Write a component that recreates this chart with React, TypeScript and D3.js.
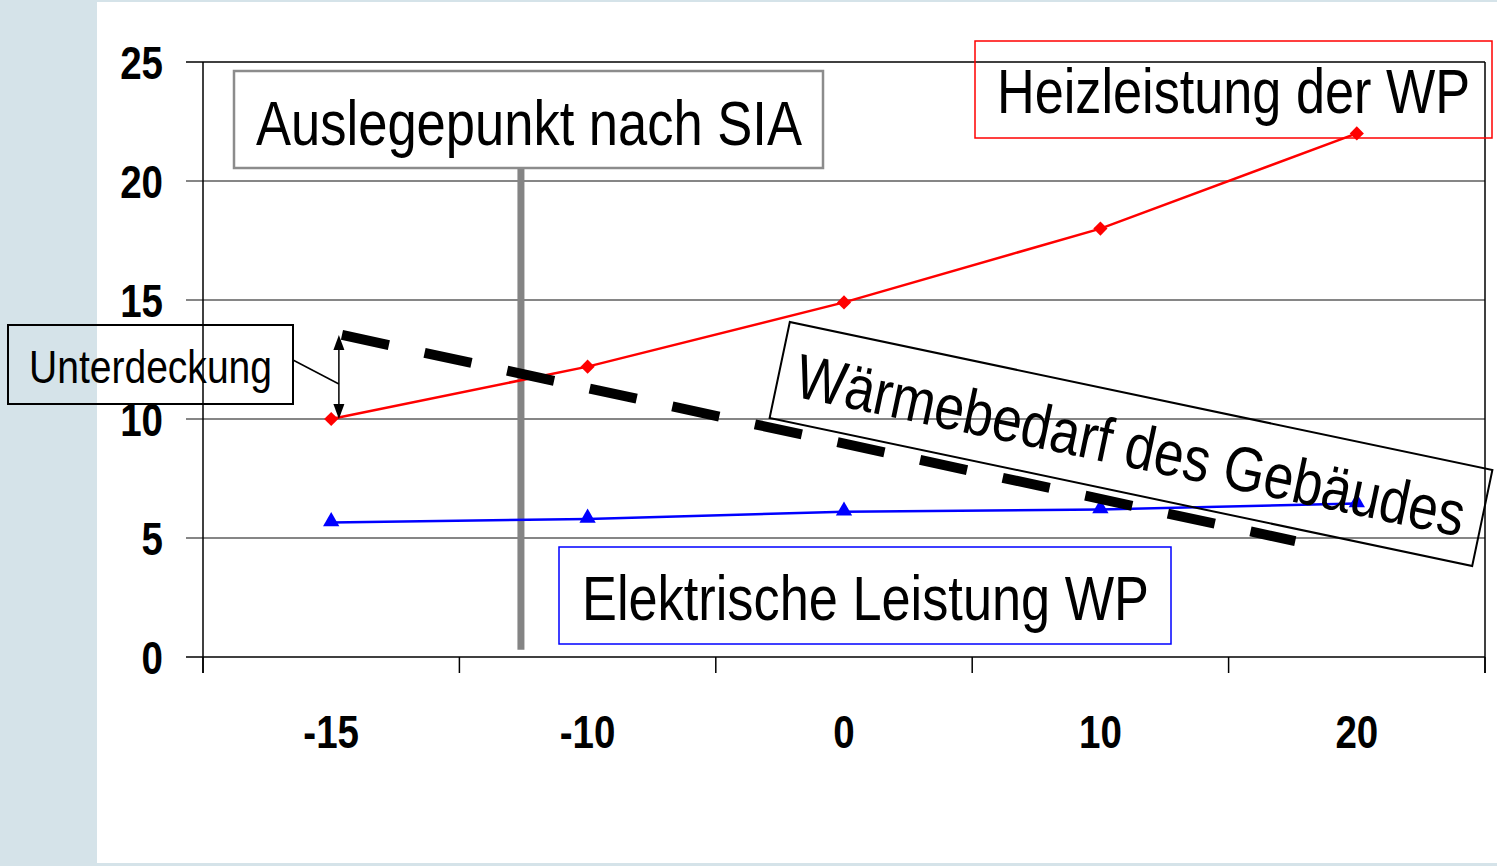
import React from 'react'
import * as d3 from 'd3'

const categories = ['-15', '-10', '0', '10', '20']
const heizleistung = [10, 12.2, 14.9, 18, 22]
const elektrischeLeistung = [5.65, 5.8, 6.1, 6.2, 6.45]
const yTickValues = [0, 5, 10, 15, 20, 25]
// building heat demand, drawn as a dashed straight line (category index, value)
const waermebedarfPos = [0.042, 3.76]
const waermebedarf = [13.53, 4.87]
// design point after SIA (category index)
const auslegePos = 0.74

const width = 1497
const height = 866
const margin = { left: 203, right: 1485, top: 62, bottom: 657 }
const font = '"Liberation Sans", Arial, sans-serif'

const x = d3.scalePoint<string>().domain(categories).range([margin.left, margin.right]).padding(0.5)
const xIdx = d3.scaleLinear().domain([0, categories.length - 1])
  .range([x(categories[0]) as number, x(categories[categories.length - 1]) as number])
const y = d3.scaleLinear().domain([0, 25]).range([margin.bottom, margin.top])
const step = x.step()
const bandEdges = d3.range(categories.length + 1).map(i => margin.left + i * step)

const lineGen = d3.line<number>().x((d, i) => x(categories[i]) as number).y(d => y(d))
const diamond = d3.symbol().type(d3.symbolSquare).size(100)()
const triangle = d3.symbol().type(d3.symbolTriangle).size(115)()

export default function App() {
  const svgStyle: React.CSSProperties = { position: 'absolute', left: 0, top: 0, display: 'block' }
  const arrowX = xIdx(0.03)
  const arrowTop = y(waermebedarf[0])
  const arrowBottom = y(heizleistung[0])
  const wx0 = xIdx(waermebedarfPos[0])
  const wx1 = xIdx(waermebedarfPos[1])
  return (
    <svg style={svgStyle} width={width} height={height}>
      <rect x={0} y={0} width={width} height={height} fill='#d5e3e9' />
      <rect x={97} y={2} width={width - 97} height={861} fill='#ffffff' />

      {/* grid + frame */}
      {yTickValues.map(v => (
        <line key={v} x1={186} x2={margin.right} y1={y(v)} y2={y(v)}
          stroke={v === 0 || v === 25 ? '#000' : '#5e5e5e'} strokeWidth={1.5} />
      ))}
      <line x1={margin.left} x2={margin.left} y1={margin.top} y2={673} stroke='#000' strokeWidth={1.5} />
      <line x1={margin.right} x2={margin.right} y1={margin.top} y2={673} stroke='#000' strokeWidth={1.5} />
      {bandEdges.map((e, i) => (
        <line key={i} x1={e} x2={e} y1={margin.bottom} y2={673} stroke='#000' strokeWidth={1.5} />
      ))}

      {/* tick labels */}
      {yTickValues.map(v => (
        <text key={v} transform={`translate(163,${y(v) + 17}) scale(0.82,1)`} textAnchor='end'
          fontFamily={font} fontWeight='bold' fontSize={47}>{v}</text>
      ))}
      {categories.map(c => (
        <text key={c} transform={`translate(${x(c)},748) scale(0.82,1)`} textAnchor='middle'
          fontFamily={font} fontWeight='bold' fontSize={47}>{c}</text>
      ))}

      {/* design point */}
      <line x1={xIdx(auslegePos)} x2={xIdx(auslegePos)} y1={y(20.7)} y2={y(0.3)} stroke='#848484' strokeWidth={7} />

      {/* series */}
      <path d={lineGen(elektrischeLeistung) || ''} fill='none' stroke='#0000ff' strokeWidth={2.5} />
      {elektrischeLeistung.map((v, i) => (
        <path key={i} d={triangle || ''} transform={`translate(${x(categories[i])},${y(v) - 1})`} fill='#0000ff' />
      ))}
      <path d={lineGen(heizleistung) || ''} fill='none' stroke='#ff0000' strokeWidth={2.5} />
      {heizleistung.map((v, i) => (
        <path key={i} d={diamond || ''} transform={`translate(${x(categories[i])},${y(v)}) rotate(45)`} fill='#ff0000' />
      ))}
      <line x1={wx0} y1={y(waermebedarf[0])} x2={wx1} y2={y(waermebedarf[1])}
        stroke='#000' strokeWidth={10} strokeDasharray='48 36.5' />

      {/* Unterdeckung */}
      <line x1={arrowX} x2={arrowX} y1={arrowTop + 12} y2={arrowBottom - 12} stroke='#000' strokeWidth={1.5} />
      <path d={`M${arrowX},${arrowTop} l-5.5,15 h11 z`} fill='#000' />
      <path d={`M${arrowX},${arrowBottom} l-5.5,-15 h11 z`} fill='#000' />
      <line x1={293} y1={360} x2={arrowX} y2={384} stroke='#000' strokeWidth={1.5} />
      <rect x={8} y={325} width={285} height={79} fill='none' stroke='#000' strokeWidth={2} />
      <text x={29} y={383} fontFamily={font} fontSize={46} textLength={243} lengthAdjust='spacingAndGlyphs'>Unterdeckung</text>

      {/* labels */}
      <rect x={234} y={71} width={589} height={97} fill='#fff' stroke='#8c8c8c' strokeWidth={2.5} />
      <text x={256} y={145} fontFamily={font} fontSize={63} textLength={546} lengthAdjust='spacingAndGlyphs'>Auslegepunkt nach SIA</text>

      <rect x={975} y={41} width={517} height={97} fill='none' stroke='#ff0000' strokeWidth={1.5} />
      <text x={997} y={113} fontFamily={font} fontSize={63} textLength={473} lengthAdjust='spacingAndGlyphs'>Heizleistung der WP</text>

      <rect x={559} y={547} width={612} height={97} fill='#fff' stroke='#0000ff' strokeWidth={1.5} />
      <text x={582} y={620} fontFamily={font} fontSize={63} textLength={567} lengthAdjust='spacingAndGlyphs'>Elektrische Leistung WP</text>

      <g transform='translate(1131,444) rotate(11.9)'>
        <rect x={-359} y={-49} width={718} height={98} fill='none' stroke='#000' strokeWidth={2} />
        <text x={-341} y={23} fontFamily={font} fontSize={63} textLength={682} lengthAdjust='spacingAndGlyphs'>Wärmebedarf des Gebäudes</text>
      </g>
    </svg>
  )
}
